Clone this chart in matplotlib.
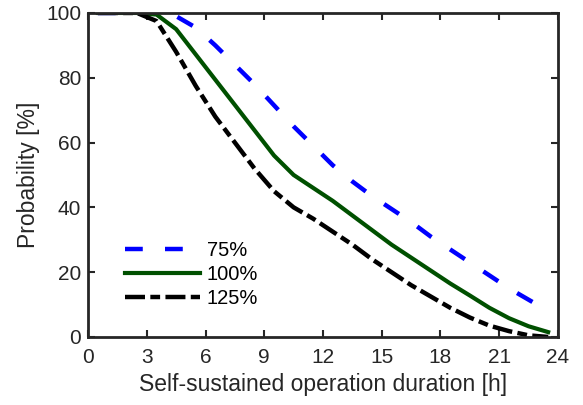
import matplotlib
matplotlib.use('Agg')
import matplotlib.pyplot as plt
import numpy as np

plt.rcParams['font.family'] = ['Liberation Sans', 'DejaVu Sans']

# operation duration [h]
hours = [0.5, 1.5, 2.5, 3.5, 4.5, 5.5, 6.5, 7.5, 8.5, 9.5, 10.5, 11.5,
         12.5, 13.5, 14.5, 15.5, 16.5, 17.5, 18.5, 19.5, 20.5, 21.5, 22.5, 23.5]

# probability [%] for each load level
p75 = [100, 100, 100, 100, 99, 95.5, 90, 84, 78, 71.5, 65, 59,
       53, 48, 43.5, 39.5, 35.5, 31, 27, 23, 19, 15, 11.5, 8]
p100 = [100, 100, 100, 99.5, 95, 87.2, 79.4, 71.6, 63.8, 56, 50, 46,
        42, 37.5, 33, 28.5, 24.5, 20.5, 16.5, 12.8, 9, 5.8, 3.3, 1.5]
p125 = [100, 100, 100, 97.5, 88, 77.5, 68, 60, 52, 45, 40, 36.5,
        32.5, 28.5, 24, 20, 16, 12.5, 9, 6, 3.5, 1.8, 0.5, 0]

labels = ['75%', '100%', '125%']
txt = '#262626'

fig = plt.figure(figsize=(5.83, 4.05), dpi=100)
ax = fig.add_axes([0.151, 0.168, 0.806, 0.800])

ax.plot(hours, p75, color='#0000ff', lw=3.2, dashes=(4.0, 5.0), label=labels[0])
ax.plot(hours, p100, color='#005000', lw=3, label=labels[1])
ax.plot(hours, p125, color='black', lw=3.2, dashes=(4.5, 1.2, 2.2, 1.2), label=labels[2])

ax.set_xlim(0, 24)
ax.set_ylim(0, 100)
ax.set_xticks(np.arange(0, 25, 3))
ax.set_yticks(np.arange(0, 101, 20))
ax.tick_params(direction='in', top=True, right=True, length=5, width=1.5,
               labelsize=15, colors=txt)
ax.tick_params(axis='x', pad=8)
ax.tick_params(axis='y', pad=5)
for s in ax.spines.values():
    s.set_linewidth(2)
    s.set_color(txt)

ax.set_xlabel('Self-sustained operation duration [h]', fontsize=16.5, color=txt, labelpad=4)
ax.set_ylabel('Probability [%]', fontsize=16.5, color=txt, labelpad=4)

leg = ax.legend(loc='center left', bbox_to_anchor=(0.079, 0.194), frameon=False,
                fontsize=14.5, handlelength=3.7, handletextpad=0.35,
                labelspacing=0.25, borderpad=0, borderaxespad=0)
for t in leg.get_texts():
    t.set_color('black')

plt.savefig('out.png', dpi=100)
